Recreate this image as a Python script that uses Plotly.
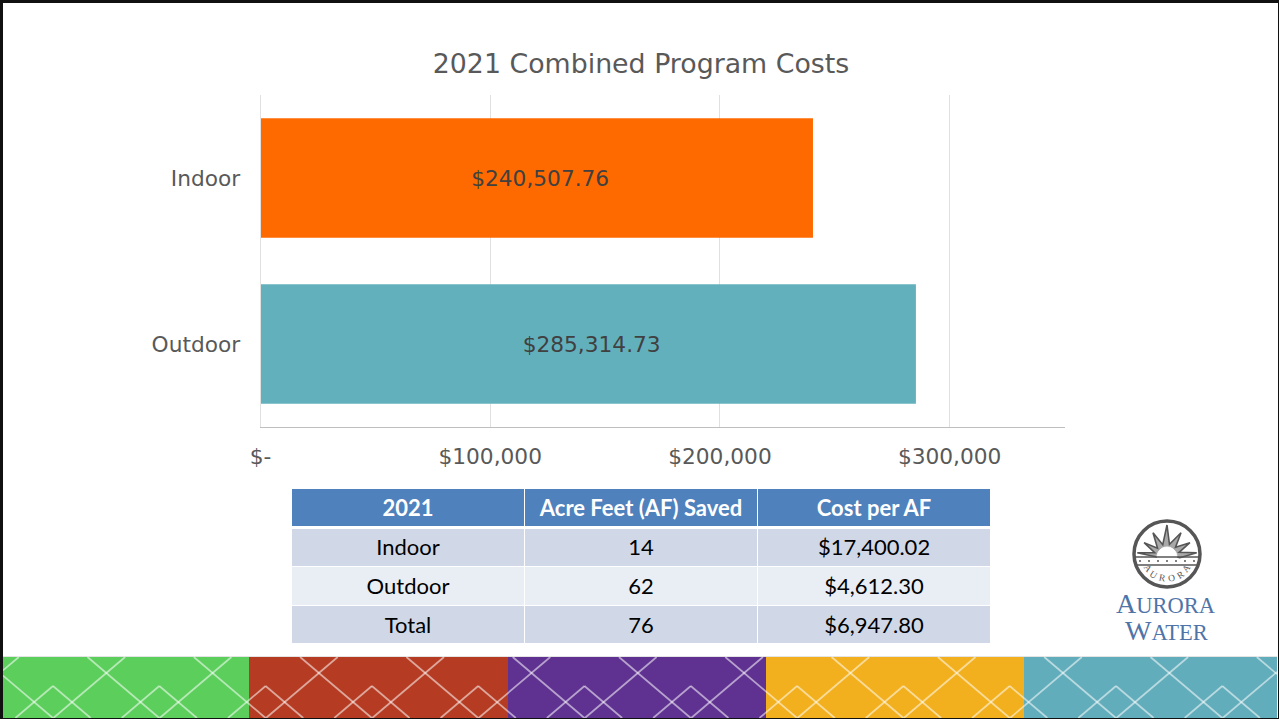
import math
import plotly.graph_objects as go

W, H = 1279, 719

# ---- chart data
categories = ["Indoor", "Outdoor"]
costs = [240507.76, 285314.73]
cost_labels = ["$240,507.76", "$285,314.73"]
bar_colors = ["#FF6A00", "#63B0BD"]
x_tick_values = [0, 100000, 200000, 300000]
x_tick_labels = ["$-", "$100,000", "$200,000", "$300,000"]

# ---- table data
table_header = ["2021", "Acre Feet (AF) Saved", "Cost per AF"]
table_programs = ["Indoor", "Outdoor", "Total"]
table_af_saved = ["14", "62", "76"]
table_cost_per_af = ["$17,400.02", "$4,612.30", "$6,947.80"]

# ---- footer band colours
band_colors = ["#5CCE5C", "#B53C23", "#5F3191", "#F2B01E", "#62ADBB"]
band_edges = [3, 249, 508, 766, 1024, 1277]


def px(x):
    return x / W


def py(y):
    return 1 - y / H


def pth(points):
    return "M" + " L".join(f"{px(a):.5f},{py(b):.5f}" for a, b in points)


shapes = []


def rect(x0, y0, x1, y1, fill, layer="below"):
    shapes.append(dict(type="rect", xref="paper", yref="paper", x0=px(x0), x1=px(x1),
                       y0=py(y1), y1=py(y0), fillcolor=fill, line_width=0, layer=layer))


# footer bands
for i, c in enumerate(band_colors):
    rect(band_edges[i], 657, band_edges[i + 1], 718, c)
rect(3, 656, 1277, 657, "#E4E4E4")

# table cell backgrounds
col_edges = [(292, 524), (525, 757), (758, 990)]
row_edges = [(489, 526, "#4F81BD"), (529, 566, "#D0D8E8"), (567, 605, "#E9EDF4"), (606, 643, "#D0D8E8")]
for cx0, cx1 in col_edges:
    for ry0, ry1, fill in row_edges:
        rect(cx0, ry0, cx1, ry1, fill)

# lattice over the bands
P, S, T, B = 106.3, 0.85, 657, 718
for k in range(0, 13):
    cx = k * P
    segs = [
        [(cx - (673 - T) / S, T), (cx + (B - 673) / S, B)],
        [(cx + (673 - T) / S, T), (cx - (B - 673) / S, B)],
        [(cx + 53, 686), (cx + 53 + (B - 686) / S, B)],
        [(cx + 53, 686), (cx + 53 - (B - 686) / S, B)],
    ]
    for seg in segs:
        (a, b), (c, d) = seg
        if min(a, c) < 3:
            if a < 3:
                b += (3 - a) * (d - b) / (c - a); a = 3
            else:
                d += (3 - c) * (d - b) / (c - a); c = 3
        if max(a, c) > 1277:
            if a > 1277:
                b += (1277 - a) * (d - b) / (c - a); a = 1277
            else:
                d += (1277 - c) * (d - b) / (c - a); c = 1277
        if a >= 1277 and c >= 1277 or a <= 3 and c <= 3:
            continue
        shapes.append(dict(type="path", xref="paper", yref="paper", path=pth([(a, b), (c, d)]),
                           line=dict(color="rgba(255,255,255,0.55)", width=1.7), layer="below"))

# slide frame
rect(0, 0, W, 3, "#111111", "above")
rect(0, 0, 3, H, "#111111", "above")
rect(0, 718, W, H, "#111111", "above")
rect(1278, 0, W, H, "#111111", "above")

# logo: ring, horizon and sun-ray star
LX, LY, LR = 1167, 554, 33
LOGO = "#565656"
shapes.append(dict(type="circle", xref="paper", yref="paper", x0=px(LX - LR), x1=px(LX + LR),
                   y0=py(LY + LR), y1=py(LY - LR), line=dict(color=LOGO, width=3.5)))
HZ = 557
ray_angles = [8, 32, 60, 90, 120, 148, 172]
ray_lengths = [30, 27, 28, 32, 28, 27, 30]
star = [(LX + 10, HZ)]
for ang, ln in zip(ray_angles, ray_lengths):
    r = math.radians(ang)
    lo = math.radians(ang - 11)
    star.append((LX + 13 * math.cos(lo), HZ - 13 * math.sin(lo)))
    star.append((LX + ln * math.cos(r), HZ - ln * math.sin(r)))
star.append((LX - 10, HZ))
shapes.append(dict(type="path", xref="paper", yref="paper", path=pth(star),
                   fillcolor="#A8A8A8", line=dict(color=LOGO, width=1.6)))
sun = [(LX + 10 * math.cos(math.pi * j / 12), HZ - 10 * math.sin(math.pi * j / 12)) for j in range(13)]
shapes.append(dict(type="path", xref="paper", yref="paper", path=pth(sun) + " Z",
                   fillcolor="#FFFFFF", line=dict(color="#FFFFFF", width=1)))
for yy, half_w in ((HZ, 32), (565, 30)):
    shapes.append(dict(type="line", xref="paper", yref="paper", x0=px(LX - half_w), x1=px(LX + half_w),
                       y0=py(yy), y1=py(yy), line=dict(color=LOGO, width=1.6)))
for j in range(-3, 4):
    shapes.append(dict(type="circle", xref="paper", yref="paper", x0=px(LX + j * 9 - 1), x1=px(LX + j * 9 + 1),
                       y0=py(562), y1=py(560), fillcolor=LOGO, line_width=0))

annotations = []
for letter, deg in zip("AURORA", [54, 33, 11, -11, -33, -54]):
    rad = math.radians(deg)
    annotations.append(dict(text=letter, xref="paper", yref="paper", showarrow=False,
                            x=px(LX - 24.5 * math.sin(rad)), y=py(LY + 24.5 * math.cos(rad)),
                            textangle=deg, font=dict(family="Liberation Serif", size=9.5, color="#565656"),
                            xanchor="center", yanchor="middle", borderpad=0))

WM = "#4F74A8"
annotations.append(dict(text='A<span style="font-size:22.5px">URORA</span>', xref="paper", yref="paper",
                        showarrow=False, x=px(1166), y=py(603), xanchor="center", yanchor="middle",
                        font=dict(family="Liberation Serif", size=28, color=WM)))
annotations.append(dict(text='W<span style="font-size:22.5px">ATER</span>', xref="paper", yref="paper",
                        showarrow=False, x=px(1166), y=py(630), xanchor="center", yanchor="middle",
                        font=dict(family="Liberation Serif", size=28, color=WM)))

fig = go.Figure()
fig.add_trace(go.Bar(
    x=costs, y=categories, orientation="h",
    marker=dict(color=bar_colors, line_width=0),
    width=0.72,
    text=["\u00a0" + t for t in cost_labels], textposition="inside", insidetextanchor="middle", textangle=0,
    textfont=dict(family="DejaVu Sans", size=21.7, color="#404040"),
    hoverinfo="skip", showlegend=False,
))

TX0, TX1, TY0, TY1 = 291.5, 990.5, 491, 652
NOFILL = "rgba(0,0,0,0)"
fig.add_trace(go.Table(
    domain=dict(x=[px(TX0), px(TX1)], y=[py(TY1), py(TY0)]),
    columnwidth=[1, 1, 1],
    header=dict(values=[h.replace(" ", "\u00a0") for h in table_header], height=39.5,
                fill_color=NOFILL, line=dict(color=NOFILL, width=0),
                font=dict(family="Lato", size=22, color="#FFFFFF", weight=700), align="center"),
    cells=dict(values=[table_programs, table_af_saved, table_cost_per_af], height=38.9,
               fill_color=NOFILL, line=dict(color=NOFILL, width=0),
               font=dict(family="Lato", size=22, color="#000000"), align="center"),
))

fig.update_layout(
    width=W, height=H, autosize=False,
    margin=dict(l=0, r=0, t=0, b=0),
    paper_bgcolor="#FFFFFF", plot_bgcolor="#FFFFFF",
    title=dict(text="2021 Combined Program Costs", x=641 / W, xanchor="center", y=py(64), yanchor="middle",
               font=dict(family="DejaVu Sans", size=26.8, color="#595959")),
    xaxis=dict(domain=[px(260.5), px(1064.5)], range=[0, 350000], tickvals=x_tick_values, ticktext=x_tick_labels,
               automargin=False,
               showgrid=True, gridcolor="#E0E0E0", gridwidth=1, zeroline=False,
               showline=True, linecolor="#BFBFBF", linewidth=1, ticks="",
               ticklabelstandoff=10,
               tickfont=dict(family="DejaVu Sans", size=21.7, color="#595959"), anchor="y"),
    yaxis=dict(domain=[py(427), py(95)], categoryorder="array", categoryarray=categories[::-1],
               automargin=False,
               showgrid=False, zeroline=False, showline=True, linecolor="#E0E0E0", linewidth=1, ticks="",
               ticklabelstandoff=15,
               tickfont=dict(family="DejaVu Sans", size=21.7, color="#595959"), anchor="x"),
    shapes=shapes, annotations=annotations, bargap=0.28,
)

fig.write_html("out.html", config=dict(displayModeBar=False),
               post_script="document.body.style.margin='0';document.documentElement.style.overflow='hidden';")
